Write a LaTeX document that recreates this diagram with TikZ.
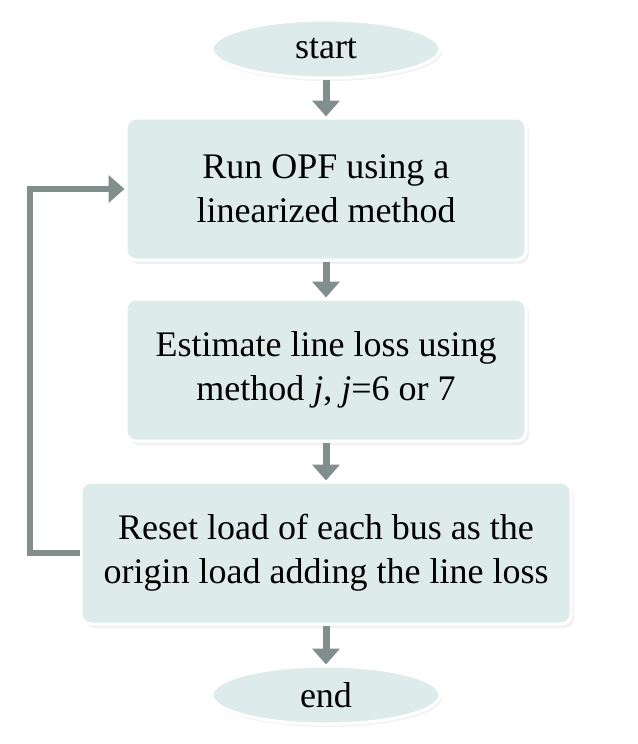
\documentclass[tikz,border=0pt]{standalone}
\usepackage{fontspec}
\setmainfont{Liberation Serif}
\usetikzlibrary{arrows.meta,positioning,shapes.geometric,shadows}
\definecolor{boxfill}{RGB}{221,235,235}
\definecolor{flowgray}{RGB}{128,143,140}

\begin{document}
\begin{tikzpicture}[>={Triangle[width=13.5pt,length=8pt]}, node distance=19pt,
    font=\fontsize{18}{22}\selectfont]
  \tikzset{
    stepbox/.style={draw=white, line width=1.5pt, rounded corners=5pt, fill=boxfill, align=center,
      minimum height=71pt, drop shadow={opacity=0.12, shadow xshift=1.5pt, shadow yshift=-2pt}},
    terminal/.style={ellipse, draw=white, line width=1.5pt, fill=boxfill, minimum width=114pt,
      minimum height=29pt, inner sep=0pt, drop shadow={opacity=0.10, shadow xshift=1pt, shadow yshift=-1.5pt}},
    flow/.style={->, draw=flowgray, line width=3.5pt}
  }
  \useasboundingbox (0,0) rectangle (318.5pt,-372pt);
  \node[terminal] (start) at (163pt,-24.5pt) {start};
  \node[stepbox, below=18.5pt of start, minimum width=200pt] (opf) {Run OPF using a\\linearized method};
  \node[stepbox, below=18pt of opf, minimum width=200pt] (est) {Estimate line loss using\\method \textit{j}, \textit{j}=6 or 7};
  \node[stepbox, below=19pt of est, minimum width=245pt] (reset) {Reset load of each bus as the\\origin load adding the line loss};
  \node[terminal, below=19.5pt of reset] (end) {end};
  \draw[flow] (start) -- (opf);
  \draw[flow] (opf) -- (est);
  \draw[flow] (est) -- (reset);
  \draw[flow] (reset) -- (end);
  \draw[flow, line width=3pt, rounded corners=0pt] (reset.west) -- ++(-25pt,0) |- (opf.west);
\end{tikzpicture}
\end{document}
